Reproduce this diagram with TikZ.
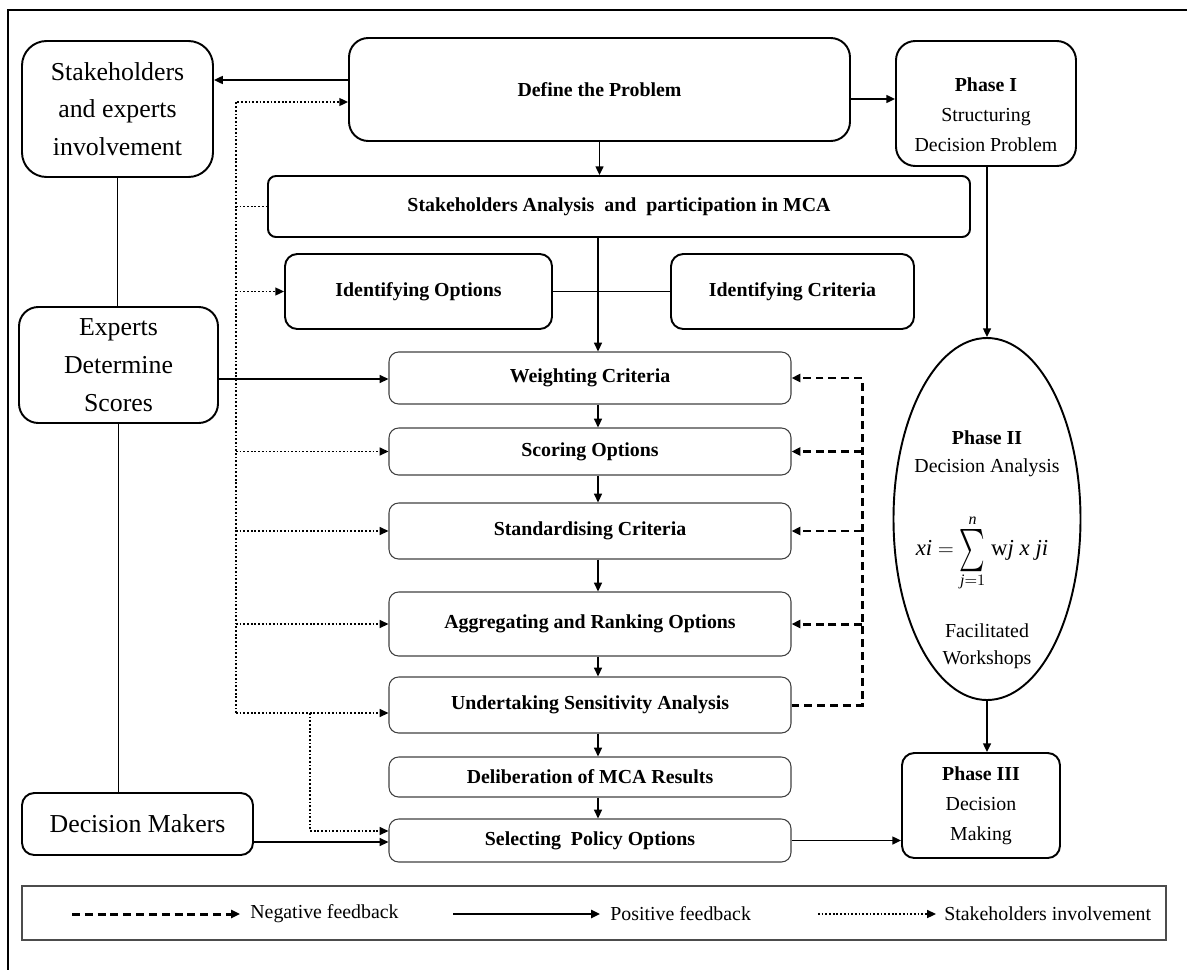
\documentclass[tikz,border=0pt]{standalone}
\usepackage{amsmath}
\usepackage{graphicx}
\usepackage{fontspec}
\setmainfont{Liberation Serif}
\usetikzlibrary{arrows.meta,shapes.geometric}

\newcommand\fsbig{\fontsize{14.7pt}{21.5pt}\selectfont}
\newcommand\fsmid{\fontsize{11.3pt}{17pt}\selectfont}
% box from corner (#2,#3) to corner (#4,#5), in pixel units
\newcommand\pxbox[7]{%
  \node[#6, minimum width={(#4-#2)*0.02cm}, minimum height={(#5-#3)*0.02cm}]
    (#1) at ({(#2+#4)/2},{(#3+#5)/2}) {#7};}
% tall, narrow summation sign
\newcommand\tallsum{\mathop{\vcenter{\hbox{\scalebox{1.15}[2]{$\sum$}}}}\limits}

\tikzset{
  tkbox/.style={draw, line width=1.1pt, rounded corners=#1, align=center, inner sep=0pt},
  tkbox/.default=11pt,
  thbox/.style={draw=black!75, line width=0.6pt, rounded corners=5.5pt, align=center,
    inner sep=0pt, font=\fsmid\bfseries},
  arrowtip/.style={-{Triangle[length=5pt,width=4.5pt]}},
  solidline/.style={line width=1.05pt},
  posarrow/.style={solidline, arrowtip},
  negline/.style={line width=1.7pt, dash pattern=on 4.5pt off 2.8pt},
  invline/.style={line width=1pt, dash pattern=on 1pt off 1.1pt},
}

\begin{document}
\begin{tikzpicture}[x=0.02cm, y=-0.02cm]
\useasboundingbox (0,0) rectangle (1187,970);

% outer frame
\draw[line width=1.2pt] (8,970) -- (8,10) -- (1187,10);

% left column
\pxbox{stk}{22}{41}{213}{177}{tkbox=14pt, font=\fsbig}{Stakeholders\\and experts\\involvement}
\pxbox{exp}{19}{307}{218}{423}{tkbox=11pt, font=\fsbig}{Experts\\Determine\\Scores}
\pxbox{dm}{22}{793}{253}{855}{tkbox=7pt, font=\fsbig}{Decision Makers}

% upper process boxes
\pxbox{def}{349}{38}{850}{141}{tkbox=11pt, font=\fsmid\bfseries}{Define the Problem}
\pxbox{sa}{268}{176}{970}{237}{tkbox=4.5pt, font=\fsmid\bfseries}{Stakeholders Analysis\ \ and\ \ participation in MCA}
\pxbox{idopt}{285}{254}{552}{329}{tkbox=7pt, font=\fsmid\bfseries}{Identifying Options}
\pxbox{idcrit}{671}{254}{914}{329}{tkbox=7pt, font=\fsmid\bfseries}{Identifying Criteria}

% MCA steps
\pxbox{w}{389}{352}{791}{404}{thbox}{Weighting Criteria}
\pxbox{sco}{389}{428}{791}{475}{thbox}{Scoring Options}
\pxbox{std}{389}{503}{791}{559}{thbox}{Standardising Criteria}
\pxbox{agg}{389}{592}{791}{656}{thbox}{Aggregating and Ranking Options}
\pxbox{und}{389}{677}{791}{733}{thbox}{Undertaking Sensitivity Analysis}
\pxbox{del}{389}{757}{791}{797}{thbox}{Deliberation of MCA Results}
\pxbox{sel}{389}{819}{791}{862}{thbox}{Selecting\ \ Policy Options}

% phases
\pxbox{ph1}{896}{41}{1076}{166}{tkbox=11pt}{}
\node[font=\fsmid, align=center] (ph1txt) at (986,115) {\textbf{Phase I}\\Structuring\\Decision Problem};
\node[draw, ellipse, line width=1.1pt, inner sep=0pt,
      minimum width={187*0.02cm}, minimum height={362*0.02cm}] (ph2) at (987,519) {};
\node[font=\fsmid\bfseries] (ph2a) at (987,438) {Phase II};
\node[font=\fsmid] (ph2b) at (987,468) {Decision Analysis};
\node[font=\fontsize{13pt}{16pt}\selectfont, inner sep=0pt] (ph2f) at (982,553)
  {\textit{xi} $=\tallsum_{\textit{j}=1}^{\textit{n}}$ w\textit{j x ji}};
\node[font=\fsmid] (ph2c) at (987,631) {Facilitated};
\node[font=\fsmid] (ph2d) at (987,660) {Workshops};
\pxbox{ph3}{902}{753}{1060}{858}{tkbox=7pt, font=\fsmid}{\textbf{Phase III}\\Decision\\Making}

% helper coordinates
\coordinate (vx) at (236,0);
\coordinate (bx) at (310,0);
\coordinate (cx) at (598,0);
\coordinate (fx) at (862,0);
\coordinate (y80) at (0,80);
\coordinate (y99) at (0,99);
\coordinate (y102) at (0,102);
\coordinate (y379) at (0,379);
\coordinate (y713) at (0,713);
\coordinate (y831) at (0,831);
\coordinate (y842) at (0,842);

% solid connectors
\draw[posarrow] (def.west |- y80) -- (stk.east |- y80);
\draw[posarrow] (def.east |- y99) -- (ph1.west |- y99);
\draw[posarrow] (def.south) -- (def.south |- sa.north);
\draw[solidline] (idopt.east) -- (idcrit.west);
\draw[posarrow] (sa.south -| cx) -- (w.north -| cx);
\draw[posarrow] (w.south -| cx) -- (sco.north -| cx);
\draw[posarrow] (sco.south -| cx) -- (std.north -| cx);
\draw[posarrow] (std.south -| cx) -- (agg.north -| cx);
\draw[posarrow] (agg.south -| cx) -- (und.north -| cx);
\draw[posarrow] (und.south -| cx) -- (del.north -| cx);
\draw[posarrow] (del.south -| cx) -- (sel.north -| cx);
\draw[posarrow] (exp.east |- y379) -- (w.west |- y379);
\draw[solidline] (stk.south) -- (stk.south |- exp.north);
\draw[solidline] (exp.south) -- (exp.south |- dm.north);
\draw[posarrow] (dm.east |- y842) -- (sel.west |- y842);
\draw[posarrow] (sel.east) -- (sel.east -| ph3.west);
\draw[posarrow] (ph1.south -| ph2.north) -- (ph2.north);
\draw[posarrow] (ph2.south) -- (ph2.south |- ph3.north);

% stakeholder involvement (dotted)
\draw[invline, arrowtip] (vx |- y713) |- (def.west |- y102);
\draw[invline, arrowtip] (vx |- y713) -- (und.west |- y713);
\draw[invline] (vx |- sa.west) -- (sa.west);
\draw[invline, arrowtip] (vx |- idopt.west) -- (idopt.west);
\draw[invline, arrowtip] (vx |- sco.west) -- (sco.west);
\draw[invline, arrowtip] (vx |- std.west) -- (std.west);
\draw[invline, arrowtip] (vx |- agg.west) -- (agg.west);
\draw[invline, arrowtip] (bx |- y713) |- (sel.west |- y831);

% negative feedback (dashed)
\draw[negline, arrowtip] (und.east) -| (fx |- w.east) -- (w.east);
\draw[negline, arrowtip] (fx |- sco.east) -- (sco.east);
\draw[negline, arrowtip] (fx |- std.east) -- (std.east);
\draw[negline, arrowtip] (fx |- agg.east) -- (agg.east);

% legend
\pxbox{legend}{22}{886}{1166}{940}{draw=black!70, line width=1pt, inner sep=0pt}{}
\coordinate (l1a) at (72,914);
\coordinate (l1b) at (240,914);
\coordinate (l2a) at (453,914);
\coordinate (l2b) at (600,914);
\coordinate (l3a) at (818,914);
\coordinate (l3b) at (936,914);
\draw[negline, arrowtip] (l1a) -- (l1b);
\node[font=\fsmid, anchor=west, inner sep=0pt] (l1t) at (250,914) {Negative feedback};
\draw[line width=1.6pt, arrowtip] (l2a) -- (l2b);
\node[font=\fsmid, anchor=west, inner sep=0pt] (l2t) at (610,914) {Positive feedback};
\draw[invline, arrowtip] (l3a) -- (l3b);
\node[font=\fsmid, anchor=west, inner sep=0pt] (l3t) at (944,914) {Stakeholders involvement};
\end{tikzpicture}
\end{document}
